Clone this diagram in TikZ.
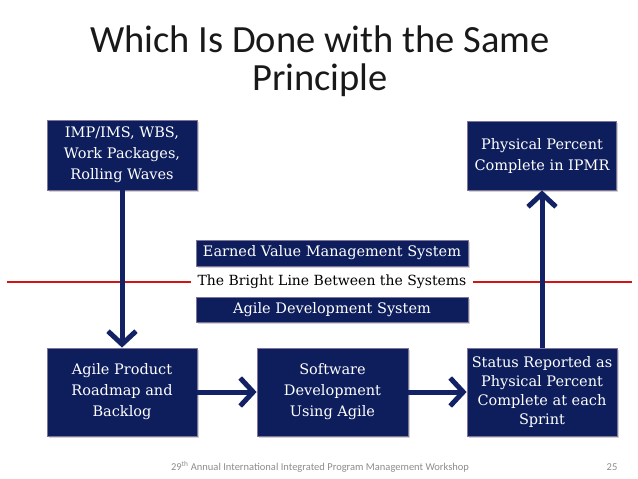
\documentclass[tikz,border=0pt]{standalone}
\usepackage{fontspec}
\setmainfont{DejaVu Serif}
\newfontfamily\titlefont{Carlito}
\usetikzlibrary{arrows.meta,shadows}
\definecolor{navy}{RGB}{14,30,92}
\definecolor{boxborder}{RGB}{125,115,155}
\definecolor{arrcol}{RGB}{18,34,100}
\definecolor{brightred}{RGB}{210,20,20}
\definecolor{footgrey}{RGB}{140,140,140}
\definecolor{titlegrey}{RGB}{25,25,25}
\begin{document}
\begin{tikzpicture}[x=1pt,y=-1pt,
  navybox/.style={draw=boxborder,line width=0.8pt,fill=navy,text=white,
    align=center,inner sep=2pt,font=\fontsize{14.5}{21}\selectfont,
    drop shadow={shadow xshift=1.5pt,shadow yshift=-1.5pt,opacity=0.35}},
  thickarr/.style={draw=arrcol,line width=5pt,
    -{Straight Barb[length=13pt,width=28pt]}},
  redrule/.style={draw=brightred,line width=2pt}]
\useasboundingbox (0,0) rectangle (638,479);
% bright line
\node[font=\fontsize{14}{16}\selectfont,inner sep=6pt] (bright) at (332,281.5)
  {The Bright Line Between the Systems};
\coordinate (lineL) at (7,281.5);
\coordinate (lineR) at (632,281.5);
\draw[redrule] (lineL) -- (bright.west);
\draw[redrule] (bright.east) -- (lineR);
% title
\node[font=\titlefont\fontsize{38.5}{38}\selectfont,align=center,text=titlegrey] (title) at (320,61)
  {Which Is Done with the Same\\Principle};
% boxes
\node[navybox,minimum width=150pt,minimum height=70pt] (A) at (122,155)
  {IMP/IMS, WBS,\\Work Packages,\\Rolling Waves};
\node[navybox,minimum width=149pt,minimum height=69pt] (B) at (542,155.5)
  {Physical Percent\\Complete in IPMR};
\node[navybox,minimum width=272pt,minimum height=26pt] (evms) at (332,253)
  {Earned Value Management System};
\node[navybox,minimum width=272pt,minimum height=25pt] (ads) at (332,309.5)
  {Agile Development System};
\node[navybox,minimum width=150pt,minimum height=88pt] (L) at (122,392)
  {Agile Product\\Roadmap and\\Backlog};
\node[navybox,minimum width=151pt,minimum height=88pt] (M) at (332.5,392)
  {Software\\Development\\Using Agile};
\node[navybox,minimum width=150pt,minimum height=88pt,font=\fontsize{14.5}{19}\selectfont] (R) at (542,392)
  {Status Reported as\\Physical Percent\\Complete at each\\Sprint};
% arrows
\draw[thickarr] (A.south) -- (L.north);
\draw[thickarr] (L.east) -- (M.west);
\draw[thickarr] (M.east) -- (R.west);
\draw[thickarr] (R.north) -- (B.south);
% footer
\node[font=\titlefont\fontsize{10.5}{12}\selectfont,text=footgrey] (foot) at (320,467)
  {29\textsuperscript{th} Annual International Integrated Program Management Workshop};
\node[font=\titlefont\fontsize{10.5}{12}\selectfont,text=footgrey] (page) at (612,467) {25};
\end{tikzpicture}
\end{document}
